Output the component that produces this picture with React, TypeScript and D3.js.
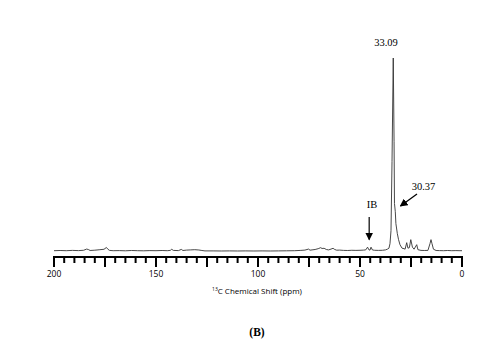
import React from "react";
import * as d3 from "d3";

// ppm positions and intensities (arbitrary units)
const ppm: number[] = [
  200, 197, 194, 191, 188, 185.5, 184, 183.2, 182.3, 180, 177.5, 175.5, 174.3, 173.6, 172.8, 171,
  168, 165, 162, 159, 156, 153, 150, 147, 144.5, 143, 142.3, 141.5, 139, 137.6, 136.8, 135,
  133, 131, 129, 127.5, 126, 122, 118, 114, 110, 106, 102, 98, 94, 90, 86, 82,
  79, 77, 75.2, 74.5, 73.5, 72, 70.5, 69.3, 68.6, 67.6, 66.5, 65.4, 64.2, 63.2, 62.4, 61.4,
  60, 58, 56, 54, 52, 50, 48.2, 47.2, 46.3, 45.6, 45.1, 44.6, 43.9, 42.8, 41, 39,
  37.5, 36.5, 35.8, 35.3, 34.8, 34.3, 33.7, 33.3, 33.1, 32.7, 32.4, 31.7, 31.1, 30.4, 29.4, 28.4,
  27.9, 27.1, 26.5, 25.8, 25.1, 24.3, 23.5, 22.2, 21.6, 20.1, 18.5, 16.7, 15.7, 15.2, 14.7, 14.0,
  12.7, 11, 9, 7, 5, 3, 1, 0,
];
const intensity: number[] = [
  1.0, 1.2, 1.0, 1.3, 1.1, 1.4, 2.6, 2.2, 1.2, 1.5, 2.0, 2.4, 4.2, 2.5, 1.3, 1.0,
  1.1, 0.9, 1.2, 1.0, 0.9, 1.1, 1.0, 1.2, 1.0, 1.3, 2.4, 1.3, 1.1, 2.3, 1.2, 1.6,
  1.8, 2.0, 1.7, 1.2, 0.8, 0.8, 0.7, 0.8, 0.7, 0.8, 0.7, 0.8, 0.7, 0.8, 0.9, 1.0,
  1.3, 1.6, 2.6, 1.5, 1.8, 2.2, 3.0, 4.0, 3.2, 3.4, 2.2, 1.8, 2.6, 3.4, 2.2, 1.5,
  1.6, 1.3, 1.2, 1.4, 1.3, 1.4, 1.6, 1.8, 4.5, 1.8, 1.6, 4.5, 1.7, 1.4, 1.3, 1.4,
  1.8, 2.6, 3.5, 8, 21, 90, 193, 110, 48, 40, 28, 18, 12, 7, 3.5, 3,
  2.5, 9, 3.5, 4, 12, 4.5, 2.5, 7, 2, 1.3, 1.2, 1.3, 8, 12, 8, 2.5,
  1.2, 1.1, 1.0, 1.2, 1.0, 1.1, 1.0, 1.0,
];

const majorTickValues: number[] = [200, 175, 150, 125, 100, 75, 50, 25, 0];
const tickLabels: number[] = [200, 150, 100, 50, 0];

const W = 499;
const H = 347;

export default function App() {
  const x = d3.scaleLinear().domain([200, 0]).range([54, 462]);
  const y = d3.scaleLinear().domain([0, 193]).range([251.7, 58]);
  const data = ppm.map((p, i) => [p, intensity[i]] as [number, number]);
  const line = d3
    .line<[number, number]>()
    .x((d) => x(d[0]))
    .y((d) => y(d[1]));
  const axisY = 257;
  const minor = d3.range(0, 201, 5);
  const serif = "'Liberation Serif', 'Times New Roman', serif";
  const sans = "'Open Sans', 'DejaVu Sans', sans-serif";

  return (
    <svg
      width={W}
      height={H}
      style={{ position: "absolute", left: 0, top: 0, background: "#fff" }}
    >
      <defs>
        <marker id="ah" markerWidth="8" markerHeight="8" refX="7" refY="4" orient="auto" markerUnits="userSpaceOnUse">
          <path d="M0,0 L8,4 L0,8 Z" fill="#000" />
        </marker>
      </defs>
      <path d={line(data) || ""} fill="none" stroke="#333" strokeWidth={0.9} />
      {/* axis */}
      <line x1={x(200) - 1} x2={x(0) + 1} y1={axisY} y2={axisY} stroke="#000" strokeWidth={2} />
      {minor.map((v) => {
        const major = majorTickValues.includes(v);
        return (
          <line
            key={v}
            x1={x(v)}
            x2={x(v)}
            y1={axisY}
            y2={axisY + (major ? 10 : 6)}
            stroke="#000"
            strokeWidth={2}
          />
        );
      })}
      {tickLabels.map((v) => (
        <text key={v} x={x(v)} y={277} textAnchor="middle" fontFamily={sans} fontSize={8.5} fill="#000">
          {v}
        </text>
      ))}
      <text x={257} y={294} textAnchor="middle" fontFamily={sans} fontSize={8} fill="#000">
        <tspan fontSize={5} dy={-3}>13</tspan>
        <tspan dy={3}>C Chemical Shift (ppm)</tspan>
      </text>
      {/* annotations */}
      <text x={386} y={45.5} textAnchor="middle" fontFamily={serif} fontSize={10.5} fill="#000">
        33.09
      </text>
      <text x={423.5} y={190} textAnchor="middle" fontFamily={serif} fontSize={10.5} fill="#000">
        30.37
      </text>
      <line x1={417} y1={194} x2={400.5} y2={206} stroke="#000" strokeWidth={1.2} markerEnd="url(#ah)" />
      <text x={372} y={208} textAnchor="middle" fontFamily={serif} fontSize={10.5} fill="#000">
        IB
      </text>
      <line x1={x(45.5)} y1={217} x2={x(45.5)} y2={239.5} stroke="#000" strokeWidth={1.2} markerEnd="url(#ah)" />
      <text x={257} y={336} textAnchor="middle" fontFamily={serif} fontSize={11.5} fontWeight="bold" fill="#000">
        (B)
      </text>
    </svg>
  );
}
